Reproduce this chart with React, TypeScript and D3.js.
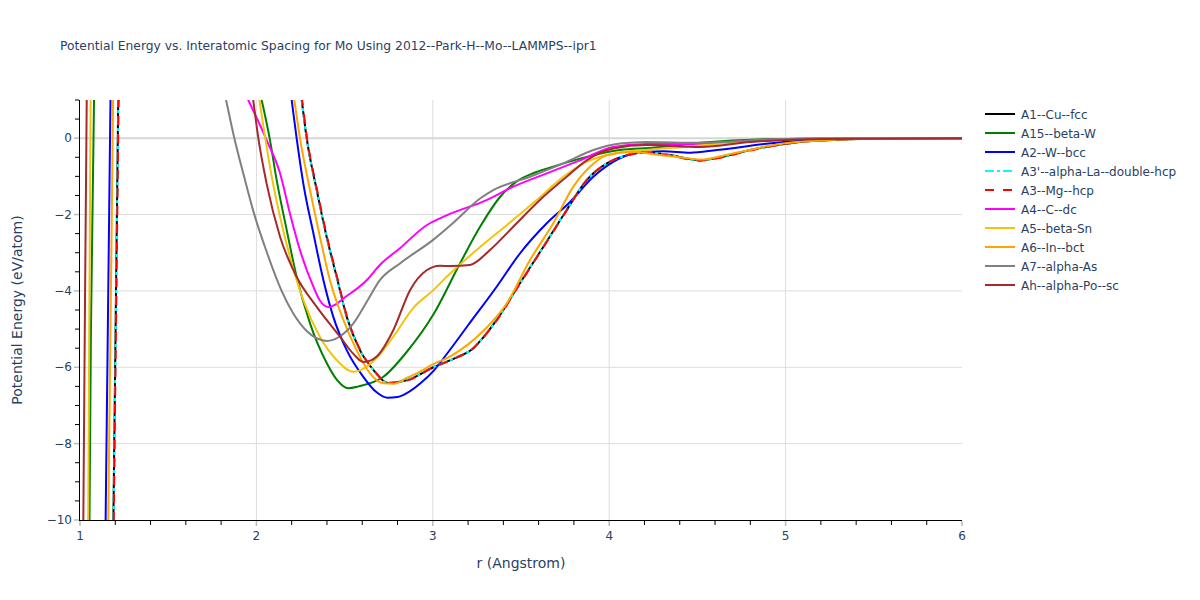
import React from 'react';
import * as d3 from 'd3';

type Pt = [number, number] | null;

// values: [r (Angstrom), E (eV/atom)], null = gap between branches
const a1Cu: Pt[] = [
  [1.188, -10.5], [1.203, -4.5], [1.218, 1.5], null,
  [2.215, 2.5], [2.257, 1], [2.285, 0], [2.342, -1.36], [2.398, -2.58], [2.455, -3.63], [2.512, -4.68],
  [2.587, -5.55], [2.663, -6.07], [2.745, -6.41], [2.852, -6.34], [3.003, -6.0], [3.135, -5.74], [3.23, -5.5],
  [3.286, -5.22], [3.362, -4.76], [3.494, -3.8], [3.626, -2.85], [3.759, -1.88], [3.872, -1.1], [3.986, -0.66],
  [4.099, -0.45], [4.21, -0.37], [4.35, -0.45], [4.515, -0.58], [4.65, -0.48], [4.8, -0.31], [5.08, -0.1],
  [5.36, -0.03], [5.6, 0], [6, 0],
];
const a15BetaW: Pt[] = [
  [1.053, -10.5], [1.062, -5], [1.081, 1.5], null,
  [1.96, 2.5], [2.03, 1], [2.077, -0.05], [2.115, -1.1], [2.172, -2.41], [2.228, -3.63], [2.304, -4.85],
  [2.4, -5.9], [2.46, -6.35], [2.52, -6.55], [2.58, -6.5], [2.72, -6.25], [2.852, -5.6], [3.003, -4.62],
  [3.154, -3.28], [3.268, -2.32], [3.381, -1.54], [3.47, -1.15], [3.58, -0.9], [3.7, -0.72], [3.872, -0.49],
  [4.061, -0.31], [4.25, -0.25], [4.515, -0.12], [4.94, -0.02], [5.5, 0], [6, 0],
];
const a2W: Pt[] = [
  [1.144, -10.5], [1.159, -4.5], [1.174, 1.5], null,
  [2.158, 2.5], [2.2, 1], [2.228, 0], [2.266, -1.19], [2.323, -2.49], [2.38, -3.72], [2.436, -4.68],
  [2.512, -5.55], [2.606, -6.25], [2.68, -6.65], [2.745, -6.8], [2.8, -6.78], [2.852, -6.68], [2.93, -6.42],
  [3.003, -6.1], [3.088, -5.6], [3.2, -4.9], [3.362, -3.89], [3.494, -3.02], [3.646, -2.23], [3.778, -1.67],
  [3.91, -1.01], [4.023, -0.62], [4.137, -0.4], [4.307, -0.34], [4.46, -0.38], [4.61, -0.31], [4.99, -0.1],
  [5.4, -0.01], [6, 0],
];
const a3pLa: Pt[] = [
  [1.189, -10.5], [1.204, -4.5], [1.219, 1.5], null,
  [2.215, 2.5], [2.257, 1], [2.285, 0], [2.342, -1.36], [2.398, -2.58], [2.455, -3.63], [2.512, -4.68],
  [2.587, -5.55], [2.663, -6.07], [2.745, -6.41], [2.852, -6.34], [3.003, -6.0], [3.135, -5.74], [3.23, -5.5],
  [3.286, -5.22], [3.362, -4.76], [3.494, -3.8], [3.626, -2.85], [3.759, -1.88], [3.872, -1.1], [3.986, -0.66],
  [4.099, -0.45], [4.21, -0.37], [4.35, -0.45], [4.515, -0.58], [4.65, -0.48], [4.8, -0.31], [5.08, -0.1],
  [5.36, -0.03], [5.6, 0], [6, 0],
];
const a3Mg: Pt[] = [
  [1.19, -10.5], [1.205, -4.5], [1.22, 1.5], null,
  [2.217, 2.5], [2.259, 1], [2.287, 0], [2.344, -1.36], [2.4, -2.58], [2.457, -3.63], [2.514, -4.68],
  [2.589, -5.55], [2.665, -6.07], [2.747, -6.41], [2.852, -6.35], [3.003, -6.0], [3.135, -5.75], [3.23, -5.5],
  [3.286, -5.22], [3.362, -4.77], [3.494, -3.81], [3.626, -2.86], [3.759, -1.89], [3.872, -1.1], [3.986, -0.66],
  [4.099, -0.45], [4.21, -0.38], [4.35, -0.46], [4.515, -0.59], [4.65, -0.49], [4.8, -0.32], [5.08, -0.1],
  [5.36, -0.03], [5.6, 0], [6, 0],
];
const a4C: Pt[] = [
  [1.8, 2.5], [1.954, 1], [2.058, -0.05], [2.134, -0.92], [2.19, -1.97], [2.247, -2.93],
  [2.323, -3.89], [2.36, -4.25], [2.408, -4.42], [2.45, -4.35], [2.493, -4.2], [2.625, -3.72], [2.7, -3.32],
  [2.814, -2.88], [2.965, -2.28], [3.079, -2.02], [3.305, -1.62], [3.456, -1.27], [3.646, -0.92], [3.834, -0.58],
  [4.023, -0.23], [4.21, -0.15], [4.515, -0.15], [4.8, -0.06], [5.2, -0.01], [6, 0],
];
const a5Sn: Pt[] = [
  [1.046, -10.5], [1.053, -4.5], [1.061, 1.5], null,
  [1.967, 2.5], [2.017, 1], [2.05, 0], [2.087, -1.01], [2.134, -2.06], [2.19, -3.11], [2.266, -4.24],
  [2.36, -5.2], [2.455, -5.81], [2.55, -6.12], [2.644, -5.92], [2.72, -5.55], [2.776, -5.2], [2.889, -4.45],
  [3.003, -3.98], [3.079, -3.63], [3.268, -2.85], [3.419, -2.28], [3.589, -1.62], [3.74, -1.01], [3.872, -0.62],
  [4.023, -0.4], [4.21, -0.31], [4.42, -0.23], [4.7, -0.12], [5.0, -0.03], [5.5, 0], [6, 0],
];
const a6In: Pt[] = [
  [1.159, -10.5], [1.174, -4.5], [1.189, 1.5], null,
  [2.167, 2.5], [2.215, 1], [2.247, 0], [2.304, -1.36], [2.36, -2.58], [2.417, -3.72], [2.493, -4.76],
  [2.568, -5.55], [2.644, -6.16], [2.72, -6.42], [2.78, -6.43], [2.852, -6.28], [2.909, -6.16], [3.003, -5.92],
  [3.097, -5.72], [3.2, -5.4], [3.286, -5.05], [3.419, -4.33], [3.551, -3.19], [3.683, -2.23], [3.797, -1.27],
  [3.891, -0.75], [3.986, -0.45], [4.137, -0.36], [4.25, -0.42], [4.42, -0.51], [4.515, -0.56], [4.7, -0.4],
  [4.99, -0.14], [5.36, -0.03], [5.8, 0], [6, 0],
];
const a7As: Pt[] = [
  [1.757, 2.5], [1.828, 1], [1.875, 0], [1.93, -1.0], [1.985, -1.95], [2.06, -3.0], [2.143, -4.0],
  [2.21, -4.6], [2.285, -5.05], [2.4, -5.31], [2.47, -5.2], [2.55, -4.85], [2.63, -4.25], [2.7, -3.72],
  [2.814, -3.28], [3.0, -2.67], [3.12, -2.2], [3.268, -1.58], [3.343, -1.36], [3.551, -1.01], [3.759, -0.62],
  [3.91, -0.31], [4.061, -0.14], [4.21, -0.1], [4.515, -0.12], [4.94, -0.03], [5.4, 0], [6, 0],
];
const ahPo: Pt[] = [
  [1.018, -10.5], [1.028, -4.5], [1.039, 1.5], null,
  [1.94, 2.5], [1.982, 1], [2.011, 0], [2.058, -1.19], [2.134, -2.58], [2.228, -3.63], [2.342, -4.42],
  [2.474, -5.2], [2.55, -5.65], [2.606, -5.86], [2.65, -5.82], [2.682, -5.72], [2.776, -5.03], [2.871, -3.98],
  [2.965, -3.46], [3.041, -3.34], [3.1, -3.35], [3.211, -3.32], [3.324, -2.93], [3.456, -2.32], [3.607, -1.62],
  [3.759, -1.01], [3.872, -0.58], [4.023, -0.27], [4.21, -0.18], [4.515, -0.23], [4.8, -0.1], [5.2, -0.02], [6, 0],
];

const seriesNames = [
  'A1--Cu--fcc', 'A15--beta-W', 'A2--W--bcc', "A3'--alpha-La--double-hcp", 'A3--Mg--hcp',
  'A4--C--dc', 'A5--beta-Sn', 'A6--In--bct', 'A7--alpha-As', 'Ah--alpha-Po--sc',
];
const seriesData = [a1Cu, a15BetaW, a2W, a3pLa, a3Mg, a4C, a5Sn, a6In, a7As, ahPo];
const seriesColors = ['#000000', '#008000', '#0000ff', '#00ffff', '#ff0000', '#ff00ff', '#f2c40f', '#ffa500', '#808080', '#a52a2a'];
const seriesDash = ['', '', '', '9,3,3,3', '9,9', '', '', '', '', ''];

const xTicks = [1, 2, 3, 4, 5, 6];
const yTicks = [0, -2, -4, -6, -8, -10];

const W = 1200, H = 600;
const margin = { top: 100, right: 238, bottom: 80, left: 80 };
const font = '"DejaVu Sans", verdana, arial, sans-serif';
const textColor = '#2a3f5f';

export default function App() {
  const x = d3.scaleLinear().domain([1, 6]).range([margin.left, W - margin.right]);
  const y = d3.scaleLinear().domain([-10, 1]).range([H - margin.bottom, margin.top]);
  const line = d3.line<Pt>()
    .defined(d => d !== null)
    .x(d => x((d as [number, number])[0]))
    .y(d => y((d as [number, number])[1]))
    .curve(d3.curveMonotoneX);

  const minorX = d3.range(1, 6.001, 0.2).filter(v => Math.abs(v - Math.round(v)) > 0.01);
  const minorY = d3.range(-10, 1.001, 0.5).filter(v => Math.abs(v / 2 - Math.round(v / 2)) > 0.01);
  const [x0, x1] = x.range();
  const [y0, y1] = y.range();

  return (
    <div style={{ position: 'absolute', left: 0, top: 0 }}>
      <svg width={W} height={H} style={{ display: 'block', background: '#fff' }} fontFamily={font}>
        <defs>
          <clipPath id="plot-clip">
            <rect x={x0} y={y1} width={x1 - x0} height={y0 - y1} />
          </clipPath>
        </defs>
        <text x={60} y={50} fontSize={12.3} fill={textColor}>
          Potential Energy vs. Interatomic Spacing for Mo Using 2012--Park-H--Mo--LAMMPS--ipr1
        </text>

        {/* grid */}
        {xTicks.slice(1, -1).map(t => (
          <line key={'gx' + t} x1={x(t)} x2={x(t)} y1={y1} y2={y0} stroke="#dddddd" strokeWidth={1} />
        ))}
        {yTicks.filter(t => t !== 0 && t !== -10).map(t => (
          <line key={'gy' + t} x1={x0} x2={x1} y1={y(t)} y2={y(t)} stroke="#dddddd" strokeWidth={1} />
        ))}
        <line x1={x0} x2={x1} y1={y(0)} y2={y(0)} stroke="#d6d6d6" strokeWidth={2} />

        {/* curves */}
        <g clipPath="url(#plot-clip)">
          {seriesData.map((d, i) => (
            <path key={seriesNames[i]} d={line(d) || ''} fill="none" stroke={seriesColors[i]}
              strokeWidth={2} strokeDasharray={seriesDash[i] || undefined} />
          ))}
        </g>

        {/* axes */}
        <line x1={x0} x2={x1} y1={y0 + 0.5} y2={y0 + 0.5} stroke="#000" strokeWidth={1} />
        <line x1={x0 - 0.5} x2={x0 - 0.5} y1={y1} y2={y0 + 1} stroke="#000" strokeWidth={1} />
        {minorX.map(t => (
          <line key={'mx' + t} x1={x(t)} x2={x(t)} y1={y0 + 1} y2={y0 + 5} stroke="#000" strokeWidth={1} />
        ))}
        {minorY.map(t => (
          <line key={'my' + t} x1={x0 - 5} x2={x0 - 1} y1={y(t)} y2={y(t)} stroke="#000" strokeWidth={1} />
        ))}
        {xTicks.map(t => (
          <g key={'tx' + t}>
            <line x1={x(t)} x2={x(t)} y1={y0 + 1} y2={y0 + 6} stroke="#bbbbbb" strokeWidth={1.5} />
            <text x={x(t)} y={y0 + 20} fontSize={12} fill={textColor} textAnchor="middle">{t}</text>
          </g>
        ))}
        {yTicks.map(t => (
          <g key={'ty' + t}>
            <line x1={x0 - 6} x2={x0 - 1} y1={y(t)} y2={y(t)} stroke="#bbbbbb" strokeWidth={1.5} />
            <text x={x0 - 8} y={y(t) + 4} fontSize={12} fill={textColor} textAnchor="end">
              {t < 0 ? '\u2212' + Math.abs(t) : t}
            </text>
          </g>
        ))}
        <text x={(x0 + x1) / 2} y={568} fontSize={14} fill={textColor} textAnchor="middle">r (Angstrom)</text>
        <text transform={`translate(22,${(y0 + y1) / 2}) rotate(-90)`} fontSize={14} fill={textColor}
          textAnchor="middle">Potential Energy (eV/atom)</text>

        {/* legend */}
        {seriesNames.map((n, i) => (
          <g key={'lg' + n} transform={`translate(985,${114 + i * 19})`}>
            <line x1={0} x2={30} y1={0} y2={0} stroke={seriesColors[i]} strokeWidth={2}
              strokeDasharray={seriesDash[i] || undefined} />
            <text x={36} y={4.5} fontSize={12} fill={textColor}>{n}</text>
          </g>
        ))}
      </svg>
    </div>
  );
}
